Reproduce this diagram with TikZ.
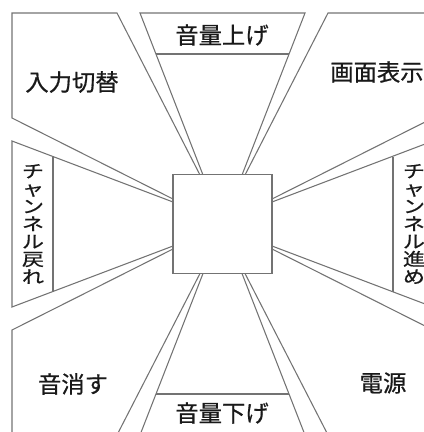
\documentclass[tikz,border=0pt]{standalone}
\usepackage{fontspec}
\newfontfamily\jp[FakeBold=0.6]{Noto Sans CJK JP}
\begin{document}
\begin{tikzpicture}[x=0.75pt,y=-0.75pt,
  edge/.style={draw=black!55, line width=0.8pt, line join=miter},
  lab/.style={font=\jp\fontsize{17.5}{20}\selectfont, text=black!90, inner sep=0},
  vlab/.style={font=\jp\fontsize{16.5}{16.5}\selectfont, text=black!90, align=center, inner sep=0, yscale=0.8, transform shape}]
\useasboundingbox (0,0) rectangle (424,432);
\clip (0,0) rectangle (424,432);
% top-left region
\draw[edge] (200,175) -- (117,13) -- (12,13) -- (12,118) -- (173,199);
% top region
\draw[edge] (203,175) -- (140,13) -- (305,13) -- (242,175);
\draw[edge] (155.9,54) -- (289.1,54);
% top-right region
\draw[edge] (245,175) -- (328,13) -- (433,13) -- (433,118) -- (272,199);
% left region
\draw[edge] (173,202) -- (12,141) -- (12,307) -- (173,246);
\draw[edge] (53,156.5) -- (53,291.5);
% right region
\draw[edge] (272,202) -- (433,141) -- (433,307) -- (272,246);
\draw[edge] (393,156.5) -- (393,291.5);
% bottom-left region
\draw[edge] (173,249) -- (12,330) -- (12,435) -- (117,435) -- (200,273.5);
% bottom region
\draw[edge] (203,273.5) -- (140,435) -- (305,435) -- (242,273.5);
\draw[edge] (155.9,394) -- (289.1,394);
% bottom-right region
\draw[edge] (272,249) -- (433,330) -- (433,435) -- (328,435) -- (245,273.5);
% center square
\node[draw=black!55, line width=0.9pt, fill=white, minimum size=74.25pt, inner sep=0] (sq) at (222.5,224) {};
% labels
\node[lab] (in) at (72,82) {入力切替};
\node[lab] (vup) at (222,35) {音量上げ};
\node[lab] (disp) at (377,72) {画面表示};
\node[lab] (mute) at (73,384) {音消す};
\node[lab] (pwr) at (383,383) {電源};
\node[lab] (vdn) at (222,413) {音量下げ};
\node[vlab] (chb) at (33,224) {チ\\ャ\\ン\\ネ\\ル\\戻\\れ};
\node[vlab] (chf) at (414,224) {チ\\ャ\\ン\\ネ\\ル\\進\\め};
\end{tikzpicture}
\end{document}
